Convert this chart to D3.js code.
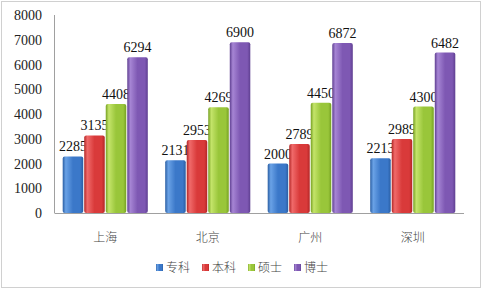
<!DOCTYPE html>
<html><head><meta charset="utf-8">
<script src="https://cdn.jsdelivr.net/npm/d3@7"></script>
<style>body{margin:0;background:#fff}svg{display:block}.num{font-family:"Times New Roman",Times,"Liberation Serif","DejaVu Serif",serif;font-size:14px}</style>
</head><body><div id="chart"></div>
<script>
"use strict";
// 四城学历人数柱状图
const CITIES = ["上海","北京","广州","深圳"];
const SERIES = ["专科","本科","硕士","博士"];
const V_ZK = [2285, 2131, 2000, 2213];
const V_BK = [3135, 2953, 2789, 2989];
const V_SS = [4408, 4269, 4450, 4300];
const V_BS = [6294, 6900, 6872, 6482];
const Y_TICKS = [0,1000,2000,3000,4000,5000,6000,7000,8000];
const COLORS = [["#6aa2e6","#3b78c9","#2a5ea3"],["#f06a6a","#d93a3a","#b32626"],["#c4e46a","#99c63a","#76a122"],["#a685d4","#7e58b3","#5f3f91"]];

const W = 482, H = 289;
const svg = d3.select("#chart").append("svg").attr("width",W).attr("height",H);
const defs = svg.append("defs");
COLORS.forEach((c,i)=>{
  const g = defs.append("linearGradient").attr("id","gr"+i).attr("x1",0).attr("x2",1).attr("y1",0).attr("y2",0);
  g.append("stop").attr("offset","0").attr("stop-color",c[2]);
  g.append("stop").attr("offset","0.15").attr("stop-color",c[0]);
  g.append("stop").attr("offset","0.5").attr("stop-color",c[1]);
  g.append("stop").attr("offset","0.85").attr("stop-color",c[1]);
  g.append("stop").attr("offset","1").attr("stop-color",c[2]);
});
svg.append("rect").attr("x",1.5).attr("y",1.5).attr("width",W-3).attr("height",H-3)
  .attr("fill","#fff").attr("stroke","#a0a0a0").attr("stroke-dasharray","1 1");

const vals = [V_ZK,V_BK,V_SS,V_BS];
const x = d3.scaleBand().domain(CITIES).range([54,464]).paddingInner(0.16).paddingOuter(0.08);
const xs = d3.scaleBand().domain(SERIES).range([0,x.bandwidth()]);
const y = d3.scaleLinear().domain([0,8000]).range([213,15]);

svg.append("g").selectAll("text").data(Y_TICKS).join("text").attr("class","num")
  .attr("x",42).attr("y",d=>y(d)+5).attr("text-anchor","end").attr("fill","#222").text(d=>d);
svg.append("line").attr("x1",54.5).attr("x2",54.5).attr("y1",y(8000)).attr("y2",y(0)).attr("stroke","#a0a0a0");
svg.append("line").attr("x1",54.5).attr("x2",464).attr("y1",y(0)+0.5).attr("y2",y(0)+0.5).attr("stroke","#a0a0a0");

CITIES.forEach((c,ci)=>{
  const g = svg.append("g").attr("transform",`translate(${x(c)},0)`);
  SERIES.forEach((s,si)=>{
    const v = vals[si][ci];
    g.append("rect").attr("x",xs(s)+0.5).attr("width",xs.bandwidth()-1).attr("y",y(v)).attr("height",y(0)-y(v))
      .attr("rx",2).attr("fill",`url(#gr${si})`);
    g.append("text").attr("class","num").attr("x",xs(s)+xs.bandwidth()/2).attr("y",y(v)-5).attr("text-anchor","middle")
      .attr("fill","#111").text(v);
  });
  svg.append("text").attr("x",x(c)+x.bandwidth()/2).attr("y",242).attr("text-anchor","middle")
    .attr("font-family","Noto Sans CJK SC").attr("font-size",12).attr("font-weight",300).attr("fill","#444").text(c);
});

const lg = svg.append("g").attr("transform","translate(156,269)");
let lx = 0;
SERIES.forEach((s,i)=>{
  lg.append("rect").attr("x",lx).attr("y",-5).attr("width",7).attr("height",7).attr("fill",`url(#gr${i})`);
  lg.append("text").attr("x",lx+10).attr("y",3).attr("font-family","Noto Sans CJK SC").attr("font-size",12).attr("font-weight",300).attr("fill","#444").text(s);
  lx += 46;
});
</script></body></html>
